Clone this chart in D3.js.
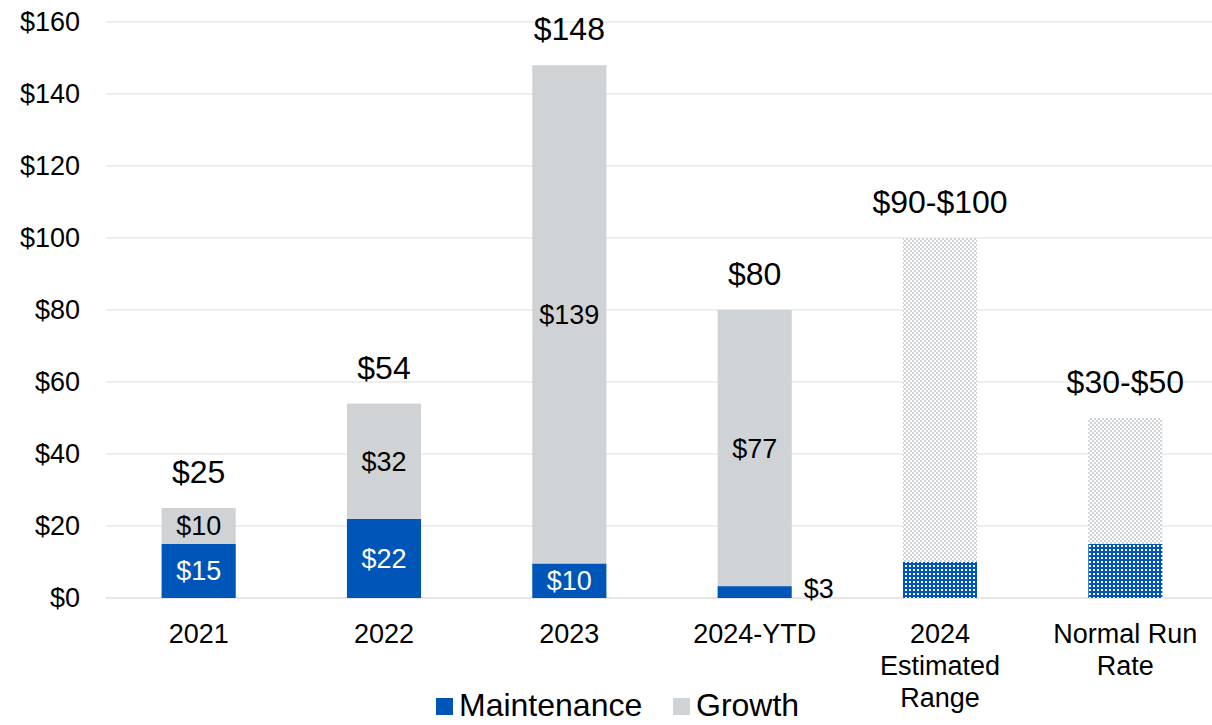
<!DOCTYPE html>
<html>
<head>
<meta charset="utf-8">
<style>
  body { margin: 0; background: #fff; }
  svg { display: block; font-family: "Liberation Sans", Arial, sans-serif; }
</style>
</head>
<body>
<svg width="1212" height="725"></svg>
<script src="https://cdn.jsdelivr.net/npm/d3@7"></script>
<script>
// chart data
var categories = ["2021", "2022", "2023", "2024-YTD", "2024\nEstimated\nRange", "Normal Run\nRate"];
var maintenance = [15, 22, 9.6, 3.3, 10, 15];
var growth = [10, 32, 138.4, 76.7, 90, 35];
var totalLabels = ["$25", "$54", "$148", "$80", "$90-$100", "$30-$50"];
var maintLabels = ["$15", "$22", "$10", "$3", "", ""];
var growthLabels = ["$10", "$32", "$139", "$77", "", ""];
var estimated = [false, false, false, false, true, true];
var yTicks = [0, 20, 40, 60, 80, 100, 120, 140, 160];

var svg = d3.select("svg"),
    blue = "#0055B8",
    grey = "#D0D3D6";

var x = d3.scaleBand().domain(d3.range(categories.length)).range([106, 1218]).paddingInner(0.6).paddingOuter(0.3);
var y = d3.scaleLinear().domain([0, 160]).range([598, 22]);

// patterns for the estimated bars
var defs = svg.append("defs");
var pg = defs.append("pattern").attr("id", "patGrey").attr("patternUnits", "userSpaceOnUse")
    .attr("width", 4).attr("height", 4);
pg.append("rect").attr("width", 4).attr("height", 4).attr("fill", "#fff");
pg.append("rect").attr("width", 2).attr("height", 2).attr("fill", grey);
pg.append("rect").attr("x", 2).attr("y", 2).attr("width", 2).attr("height", 2).attr("fill", grey);
var pb = defs.append("pattern").attr("id", "patBlue").attr("patternUnits", "userSpaceOnUse")
    .attr("width", 4).attr("height", 4);
pb.append("rect").attr("width", 4).attr("height", 4).attr("fill", blue);
pb.append("rect").attr("x", 1).attr("y", 1).attr("width", 2).attr("height", 2).attr("fill", "#fff");

// grid
svg.append("g").selectAll("line").data(yTicks).join("line")
    .attr("x1", 106).attr("x2", 1212)
    .attr("y1", function(d) { return y(d); }).attr("y2", function(d) { return y(d); })
    .attr("stroke", function(d) { return d === 0 ? "#E6E6E6" : "#EEEEEE"; })
    .attr("stroke-width", 2);

// y axis labels
var yAxis = d3.axisLeft(y).tickValues(yTicks).tickSize(0).tickPadding(0)
    .tickFormat(function(d) { return "$" + d; });
var ya = svg.append("g").attr("transform", "translate(80,0)").call(yAxis);
ya.select(".domain").remove();
ya.selectAll("text").attr("font-size", 27).attr("fill", "#000")
    .attr("font-family", "Liberation Sans, Arial, sans-serif");

var bw = x.bandwidth();

// maintenance bars
svg.append("g").selectAll("rect").data(maintenance).join("rect")
    .attr("x", function(d, i) { return x(i); })
    .attr("width", bw)
    .attr("y", function(d) { return y(d); })
    .attr("height", function(d) { return y(0) - y(d); })
    .attr("fill", function(d, i) { return estimated[i] ? "url(#patBlue)" : blue; });

// growth bars
svg.append("g").selectAll("rect").data(growth).join("rect")
    .attr("x", function(d, i) { return x(i); })
    .attr("width", bw)
    .attr("y", function(d, i) { return y(maintenance[i] + d); })
    .attr("height", function(d) { return y(0) - y(d); })
    .attr("fill", function(d, i) { return estimated[i] ? "url(#patGrey)" : grey; });

// total labels
svg.append("g").selectAll("text").data(totalLabels).join("text")
    .attr("x", function(d, i) { return x(i) + bw / 2; })
    .attr("y", function(d, i) { return y(maintenance[i] + growth[i]) - 25; })
    .attr("text-anchor", "middle").attr("font-size", 32).text(function(d) { return d; });

// growth labels
svg.append("g").selectAll("text").data(growthLabels).join("text")
    .attr("x", function(d, i) { return x(i) + bw / 2; })
    .attr("y", function(d, i) { return y(maintenance[i] + growth[i] / 2); })
    .attr("dy", "0.35em")
    .attr("text-anchor", "middle").attr("font-size", 27).text(function(d) { return d; });

// maintenance labels
svg.append("g").selectAll("text").data(maintLabels).join("text")
    .attr("x", function(d, i) { return maintenance[i] < 5 ? x(i) + bw + 12 : x(i) + bw / 2; })
    .attr("y", function(d, i) { return maintenance[i] < 5 ? y(0) - 9 : y(maintenance[i] / 2); })
    .attr("dy", "0.35em")
    .attr("text-anchor", function(d, i) { return maintenance[i] < 5 ? "start" : "middle"; })
    .attr("fill", function(d, i) { return maintenance[i] < 5 ? "#000" : "#fff"; })
    .attr("font-size", 27).text(function(d) { return d; });

// category labels
var cats = svg.append("g").selectAll("text").data(categories).join("text")
    .attr("x", function(d, i) { return x(i) + bw / 2; })
    .attr("y", 643)
    .attr("text-anchor", "middle").attr("font-size", 27);
cats.selectAll("tspan").data(function(d) { return d.split("\n"); }).join("tspan")
    .attr("x", function() { return this.parentNode.getAttribute("x"); })
    .attr("dy", function(d, i) { return i === 0 ? 0 : 32; })
    .text(function(d) { return d; });

// legend
var legend = [["Maintenance", blue, 436], ["Growth", grey, 673]];
var lg = svg.append("g").selectAll("g").data(legend).join("g")
    .attr("transform", function(d) { return "translate(" + d[2] + ",0)"; });
lg.append("rect").attr("y", 698).attr("width", 17).attr("height", 17)
    .attr("fill", function(d) { return d[1]; });
lg.append("text").attr("x", 23).attr("y", 716).attr("font-size", 32)
    .text(function(d) { return d[0]; });
</script>
</body>
</html>
